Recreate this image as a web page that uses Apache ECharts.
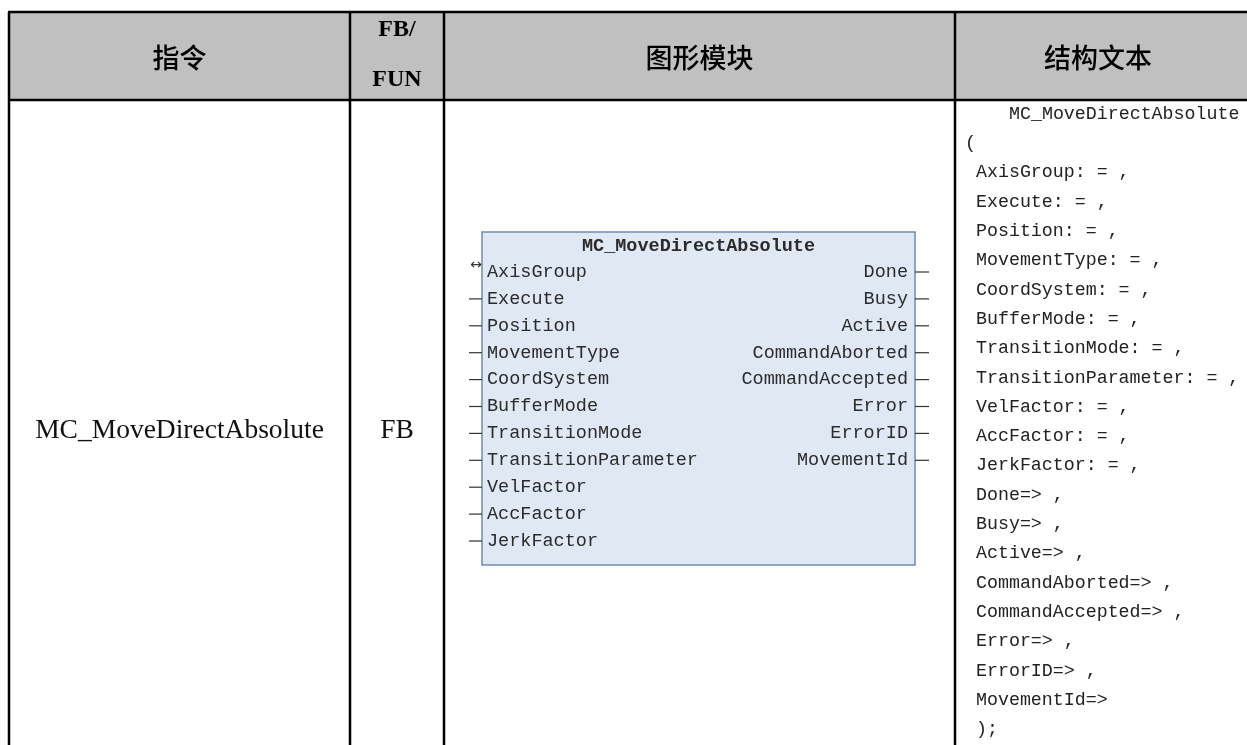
<!DOCTYPE html>
<html>
<head>
<meta charset="utf-8">
<script src="https://cdn.jsdelivr.net/npm/echarts@6/dist/echarts.min.js"></script>
<style>html,body{margin:0;padding:0;background:#fff;}#c{width:1247px;height:745px;}</style>
</head>
<body>
<div id="c"></div>
<script>
// ---- content ----
const headerTitles = ['指令', 'FB/\nFUN', '图形模块', '结构文本'];
const instructionName = 'MC_MoveDirectAbsolute';
const blockKind = 'FB';
const blockTitle = 'MC_MoveDirectAbsolute';
const inputPins = ['AxisGroup', 'Execute', 'Position', 'MovementType', 'CoordSystem', 'BufferMode',
  'TransitionMode', 'TransitionParameter', 'VelFactor', 'AccFactor', 'JerkFactor'];
const outputPins = ['Done', 'Busy', 'Active', 'CommandAborted', 'CommandAccepted', 'Error', 'ErrorID', 'MovementId'];
const inOutPins = ['AxisGroup'];
const stLines = ['MC_MoveDirectAbsolute', '(', 'AxisGroup: = ,', 'Execute: = ,', 'Position: = ,', 'MovementType: = ,',
  'CoordSystem: = ,', 'BufferMode: = ,', 'TransitionMode: = ,', 'TransitionParameter: = ,', 'VelFactor: = ,',
  'AccFactor: = ,', 'JerkFactor: = ,', 'Done=> ,', 'Busy=> ,', 'Active=> ,', 'CommandAborted=> ,',
  'CommandAccepted=> ,', 'Error=> ,', 'ErrorID=> ,', 'MovementId=>', ');'];

// ---- layout ----
const W = 1247, H = 745;
const colX = [9, 350, 444, 955, 1260];
const topY = 12, headY = 100, bottomY = 760;
const els = [];

// header background
els.push({type: 'rect', shape: {x: colX[0], y: topY, width: W - colX[0] + 5, height: headY - topY},
  style: {fill: '#c0c0c0'}, z: 1});

// header texts
headerTitles.forEach((t, i) => {
  const cx = i === 3 ? 1098 : (colX[i] + colX[i + 1]) / 2;
  const isLatin = i === 1;
  els.push({type: 'text', x: cx, y: (topY + headY) / 2 + (isLatin ? -1 : 2), z: 5,
    style: {text: t, textAlign: 'center', textVerticalAlign: 'middle', fill: '#000',
      font: isLatin ? 'bold 24px "Liberation Serif"' : '500 27px "Noto Sans CJK SC"',
      lineHeight: 50}});
});

// grid lines
const lineStyle = {stroke: '#000', lineWidth: 2.5};
[topY, headY].forEach(y => els.push({type: 'line', shape: {x1: colX[0] - 1, y1: y, x2: W + 5, y2: y}, style: lineStyle, z: 6}));
colX.slice(0, 4).forEach(x => els.push({type: 'line', shape: {x1: x, y1: topY, x2: x, y2: bottomY}, style: lineStyle, z: 6}));

// row cells
const rowMid = 431;
els.push({type: 'text', x: (colX[0] + colX[1]) / 2, y: rowMid, z: 5,
  style: {text: instructionName, textAlign: 'center', textVerticalAlign: 'middle', fill: '#111', font: '27.5px "Liberation Serif"'}});
els.push({type: 'text', x: (colX[1] + colX[2]) / 2, y: rowMid, z: 5,
  style: {text: blockKind, textAlign: 'center', textVerticalAlign: 'middle', fill: '#111', font: '27.5px "Liberation Serif"'}});

// function block diagram
const bx = 482, by = 232, bw = 433, bh = 333;
els.push({type: 'rect', shape: {x: bx, y: by, width: bw, height: bh},
  style: {fill: '#e0e8f4', stroke: '#6e8cb4', lineWidth: 1.5}, z: 3});
const pinFont = '18.5px "Liberation Mono"';
els.push({type: 'text', x: bx + bw / 2, y: 246, z: 5,
  style: {text: blockTitle, textAlign: 'center', textVerticalAlign: 'middle', fill: '#2b2b2b', font: 'bold ' + pinFont}});
const pin0 = 272, pinStep = 26.9;
inputPins.forEach((p, i) => {
  const y = pin0 + i * pinStep;
  els.push({type: 'text', x: bx + 5, y: y, z: 5,
    style: {text: p, textAlign: 'left', textVerticalAlign: 'middle', fill: '#2b2b2b', font: pinFont}});
  if (inOutPins.indexOf(p) >= 0) {
    els.push({type: 'text', x: bx - 6, y: y - 7, z: 5,
      style: {text: '↔', textAlign: 'center', textVerticalAlign: 'middle', fill: '#333', font: '14px "DejaVu Sans"'}});
  } else {
    els.push({type: 'line', shape: {x1: bx - 13, y1: y, x2: bx, y2: y}, style: {stroke: '#333', lineWidth: 1.2}, z: 4});
  }
});
outputPins.forEach((p, i) => {
  const y = pin0 + i * pinStep;
  els.push({type: 'text', x: bx + bw - 7, y: y, z: 5,
    style: {text: p, textAlign: 'right', textVerticalAlign: 'middle', fill: '#2b2b2b', font: pinFont}});
  els.push({type: 'line', shape: {x1: bx + bw, y1: y, x2: bx + bw + 14, y2: y}, style: {stroke: '#333', lineWidth: 1.2}, z: 4});
});

// structured text
const stX = 965, st0 = 114, stStep = 29.3, charW = 11;
stLines.forEach((t, i) => {
  const indent = i === 0 ? 4 : (i === 1 || i === stLines.length - 1 ? 0 : 1);
  els.push({type: 'text', x: stX + indent * charW + (i === stLines.length - 1 ? charW : 0), y: st0 + i * stStep, z: 5,
    style: {text: t, textAlign: 'left', textVerticalAlign: 'middle', fill: '#222', font: '18.3px "Liberation Mono"'}});
});

const chart = echarts.init(document.getElementById('c'), null, {renderer: 'canvas', width: W, height: H});
chart.setOption({backgroundColor: '#fff', animation: false, graphic: {elements: els}});
</script>
</body>
</html>
